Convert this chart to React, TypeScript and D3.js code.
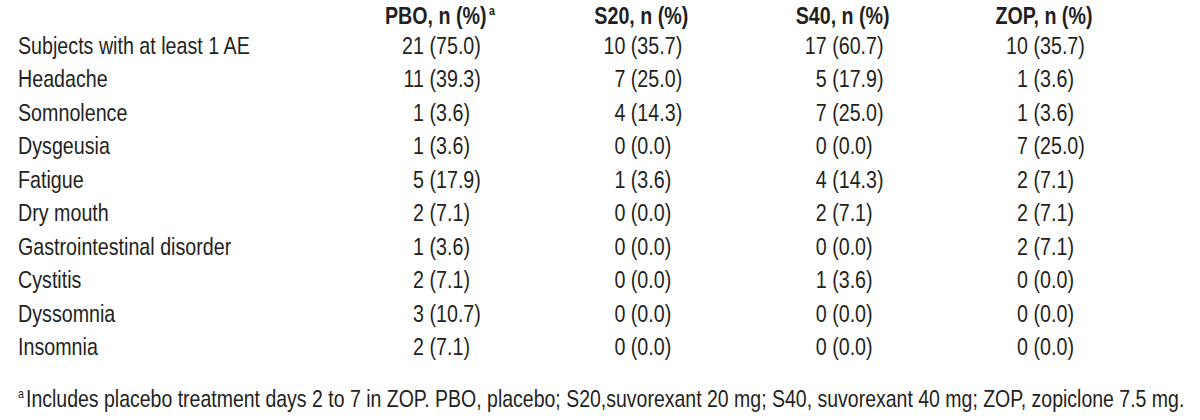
import React from 'react';
import * as d3 from 'd3';

const W = 1200;
const H = 420;
const FONT = "'Liberation Sans Narrow', 'Arial Narrow', 'Liberation Sans', Arial, sans-serif";
const INK = '#231f20';
const SX = 0.82; // no narrow face installed, so squeeze Liberation Sans

// table content
const groups = ['PBO', 'S20', 'S40', 'ZOP'];
const headers = ['PBO, n (%)', 'S20, n (%)', 'S40, n (%)', 'ZOP, n (%)'];
const headerNotes = ['a', '', '', ''];
const events = [
  'Subjects with at least 1 AE',
  'Headache',
  'Somnolence',
  'Dysgeusia',
  'Fatigue',
  'Dry mouth',
  'Gastrointestinal disorder',
  'Cystitis',
  'Dyssomnia',
  'Insomnia',
];
const pboN = [21, 11, 1, 1, 5, 2, 1, 2, 3, 2];
const pboPct = [75.0, 39.3, 3.6, 3.6, 17.9, 7.1, 3.6, 7.1, 10.7, 7.1];
const s20N = [10, 7, 4, 0, 1, 0, 0, 0, 0, 0];
const s20Pct = [35.7, 25.0, 14.3, 0.0, 3.6, 0.0, 0.0, 0.0, 0.0, 0.0];
const s40N = [17, 5, 7, 0, 4, 2, 0, 1, 0, 0];
const s40Pct = [60.7, 17.9, 25.0, 0.0, 14.3, 7.1, 0.0, 3.6, 0.0, 0.0];
const zopN = [10, 1, 1, 7, 2, 2, 2, 0, 0, 0];
const zopPct = [35.7, 3.6, 3.6, 25.0, 7.1, 7.1, 7.1, 0.0, 0.0, 0.0];
const footnoteMark = 'a';
const footnote =
  'Includes placebo treatment days 2 to 7 in ZOP. PBO, placebo; S20,suvorexant 20 mg; S40, suvorexant 40 mg; ZOP, zopiclone 7.5 mg.';

const counts = [pboN, s20N, s40N, zopN];
const pcts = [pboPct, s20Pct, s40Pct, zopPct];

const fmt = d3.format('.1f');

const at = (x: number, y: number, sx = SX) => `translate(${x},${y}) scale(${sx},1)`;

export default function App() {
  // column anchor = right edge of the n value
  const xCol = d3.scalePoint<string>().domain(groups).range([424, 1028]);
  const yRow = d3.scalePoint<string>().domain(events).range([54, 355]);
  const fs = 24;
  const gap = fs * 0.278 * SX;

  return (
    <div style={{ position: 'absolute', left: 0, top: 0 }}>
      <svg width={W} height={H} style={{ display: 'block', background: '#fff' }} fontFamily={FONT} fill={INK}>
        {/* header */}
        {groups.map((g, i) => (
          <text key={g} transform={at((xCol(g) as number) + 16, 24)} fontSize={fs} fontWeight="bold" textAnchor="middle">
            {headers[i]}
            {headerNotes[i] && (
              <tspan fontSize={13} dx={3} dy={-9} fontWeight="bold">{headerNotes[i]}</tspan>
            )}
          </text>
        ))}

        {/* rows */}
        {events.map((ev, r) => {
          const y = yRow(ev) as number;
          return (
            <g key={ev}>
              <text transform={at(18, y)} fontSize={fs}>{ev}</text>
              {groups.map((g, c) => (
                <g key={g}>
                  <text transform={at(xCol(g) as number, y)} fontSize={fs} textAnchor="end">{counts[c][r]}</text>
                  <text transform={at((xCol(g) as number) + gap, y)} fontSize={fs}>({fmt(pcts[c][r])})</text>
                </g>
              ))}
            </g>
          );
        })}

        {/* footnote */}
        <text transform={at(18, 398)} fontSize={13}>{footnoteMark}</text>
        <text transform={at(26, 407, 0.812)} fontSize={fs}>{footnote}</text>
      </svg>
    </div>
  );
}
